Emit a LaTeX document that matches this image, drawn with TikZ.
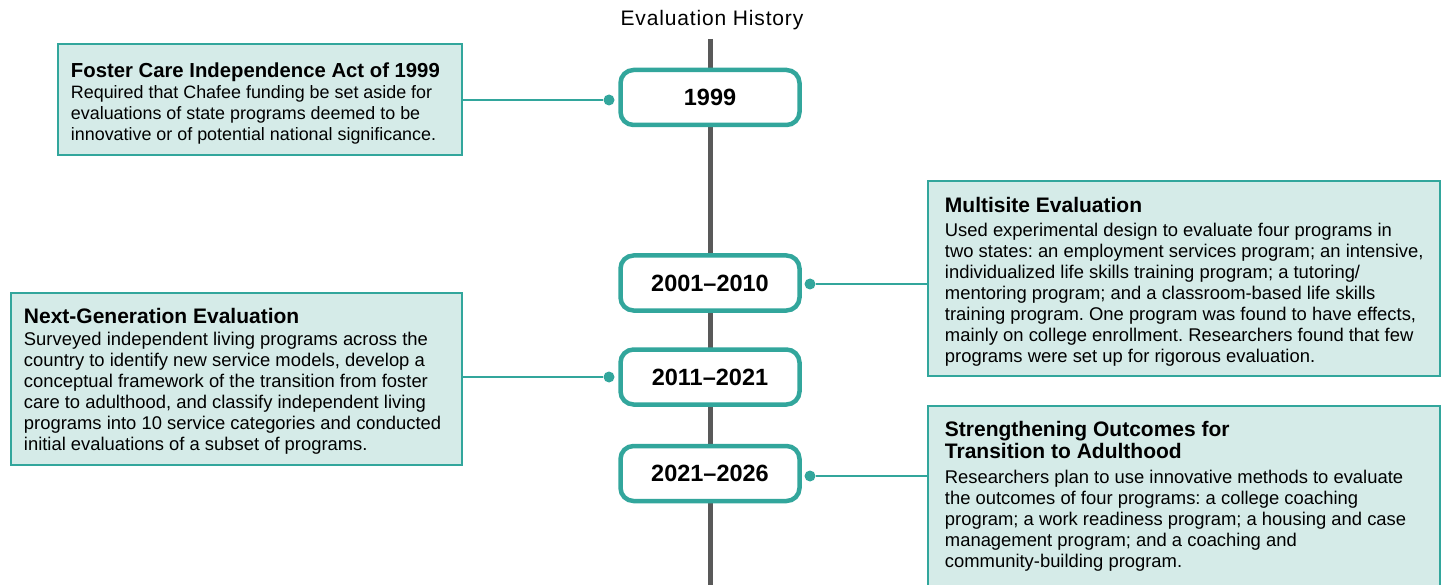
\documentclass[tikz,border=0pt]{standalone}
\usepackage{fontspec}
\setmainfont{Liberation Sans}
\newfontfamily\headfont[LetterSpace=4]{Liberation Sans}
\usetikzlibrary{calc}
\frenchspacing

\definecolor{tline}{HTML}{32A69C}
\definecolor{tfill}{HTML}{D5EBE8}
\definecolor{axisgray}{HTML}{595959}

% box headings
\newcommand{\ttl}[1]{{\fontsize{21}{23}\selectfont\bfseries #1}}
\newcommand{\ttlsmall}[1]{{\fontsize{20.3}{23}\selectfont\bfseries #1}}

\begin{document}
\begin{tikzpicture}[x=1pt,y=-1pt,
  yearbox/.style={draw=tline, line width=4.5pt, rounded corners=13pt, fill=white,
    minimum width=179pt, minimum height=55pt, inner sep=0pt,
    font=\fontsize{23.5}{28}\selectfont\bfseries},
  infobox/.style={draw=tline, line width=2.5pt, fill=tfill, inner sep=0pt},
  infotext/.style={anchor=west, align=left, inner sep=0pt,
    font=\fontsize{18.4}{21}\selectfont},
  link/.style={draw=tline, line width=2pt},
  dot/.style={circle, fill=tline, minimum size=11pt, inner sep=0pt}]

\useasboundingbox (0,0) rectangle (1448,585);

% heading and time axis
\node[font=\headfont\fontsize{21}{23}\selectfont] (head) at (712,20) {Evaluation History};
\coordinate (axtop) at (710,39);
\coordinate (axbot) at (710,590);
\draw[axisgray, line width=5pt] (axtop) -- (axbot);

% year markers
\node[yearbox] (y1) at (710,97.5) {1999};
\node[yearbox] (y2) at (710,283) {2001--2010};
\node[yearbox] (y3) at (710,377) {2011--2021};
\node[yearbox] (y4) at (710,473.5) {2021--2026};

% description boxes
\node[infobox, minimum width=404pt, minimum height=111pt] (b1) at (260,99.5) {};
\node[infobox, minimum width=512pt, minimum height=195pt] (b2) at (1184,278.5) {};
\node[infobox, minimum width=451pt, minimum height=172pt] (b3) at (236.5,379) {};
\node[infobox, minimum width=512pt, minimum height=186pt] (b4) at (1184,499) {};

\node[infotext, font=\fontsize{17.9}{21}\selectfont] (t1) at ($(b1.west)+(14,4)$) {%
\ttlsmall{Foster Care Independence Act of 1999}\\[0pt]
Required that Chafee funding be set aside for\\
evaluations of state programs deemed to be\\
innovative or of potential national significance.};

\node[infotext] (t2) at ($(b2.west)+(18,3.5)$) {%
\ttl{Multisite Evaluation}\\[3.5pt]
Used experimental design to evaluate four programs in\\
two states: an employment services program; an intensive,\\
individualized life skills training program; a tutoring/\\
mentoring program; and a classroom-based life skills\\
training program. One program was found to have effects,\\
mainly on college enrollment. Researchers found that few\\
programs were set up for rigorous evaluation.};

\node[infotext] (t3) at ($(b3.west)+(14,2.5)$) {%
\ttl{Next-Generation Evaluation}\\[1pt]
Surveyed independent living programs across the\\
country to identify new service models, develop a\\
conceptual framework of the transition from foster\\
care to adulthood, and classify independent living\\
programs into 10 service categories and conducted\\
initial evaluations of a subset of programs.};

\node[infotext] (t4) at ($(b4.west)+(18,-2.5)$) {%
\ttl{Strengthening Outcomes for}\\[0.5pt]
\ttl{Transition to Adulthood}\\[4.5pt]
Researchers plan to use innovative methods to evaluate\\
the outcomes of four programs: a college coaching\\
program; a work readiness program; a housing and case\\
management program; and a coaching and\\
community-building program.};

% connectors from the year markers to the boxes
\node[dot] (d1) at (609,100) {};
\node[dot] (d2) at (810,284) {};
\node[dot] (d3) at (609,377) {};
\node[dot] (d4) at (810,476) {};
\draw[link] (d1) -- (d1 -| b1.east);
\draw[link] (d2) -- (d2 -| b2.west);
\draw[link] (d3) -- (d3 -| b3.east);
\draw[link] (d4) -- (d4 -| b4.west);
\end{tikzpicture}
\end{document}
